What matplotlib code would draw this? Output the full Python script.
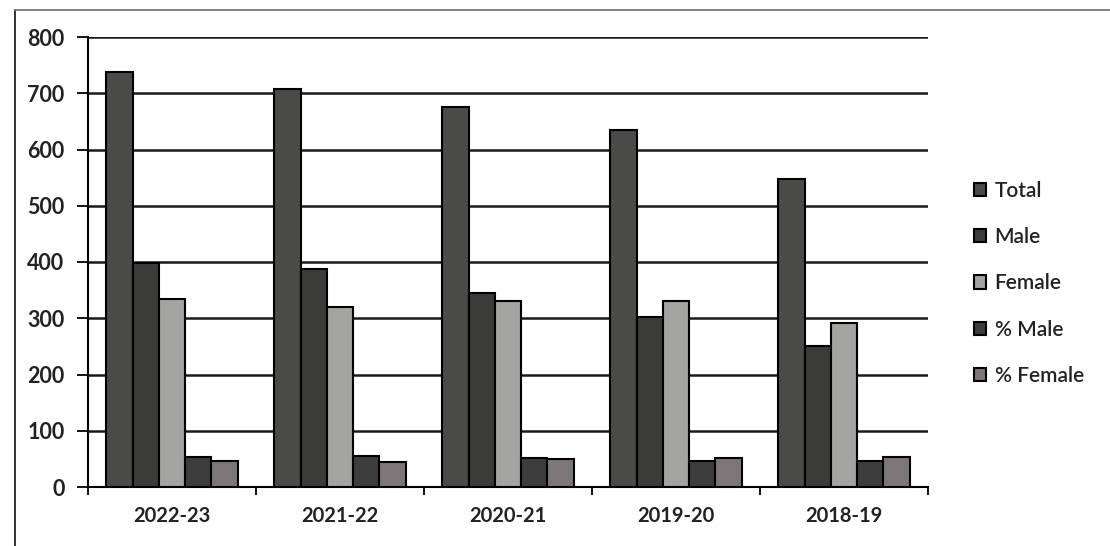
import matplotlib.pyplot as plt
import numpy as np

years = ["2022-23", "2021-22", "2020-21", "2019-20", "2018-19"]
total = [738, 707, 675, 635, 548]
male = [398, 387, 345, 302, 251]
female = [334, 320, 330, 330, 291]
pct_male = [54, 55, 51, 47, 46]
pct_female = [46, 45, 49, 52, 53]

series = ["Total", "Male", "Female", "% Male", "% Female"]
colors = ["#4a4a48", "#3b3b3a", "#a3a3a1", "#3e3d3d", "#7d7678"]

plt.rcParams["font.family"] = ["Lato", "DejaVu Sans"]

fig = plt.figure(figsize=(11.1, 5.46), dpi=100)
ax = fig.add_axes([88 / 1110, 1 - 487 / 546, (928 - 88) / 1110, (487 - 37) / 546])

# outer scanned frame
fig.add_artist(plt.Line2D([15 / 1110, 15 / 1110], [0, 1 - 10 / 546], transform=fig.transFigure,
                          color="#222222", lw=1.3))
fig.add_artist(plt.Line2D([15 / 1110, 1], [1 - 10 / 546, 1 - 10 / 546], transform=fig.transFigure,
                          color="#777777", lw=1.3))

x = np.arange(len(years))
w = 0.156
data = [total, male, female, pct_male, pct_female]
for i, (name, vals, c) in enumerate(zip(series, data, colors)):
    ax.bar(x + (i - 2) * w, vals, w, color=c, edgecolor="black", linewidth=1.5,
           label=name, zorder=3)

ax.set_xlim(-0.5, len(years) - 0.5)
ax.set_ylim(0, 800)
ax.set_yticks(range(0, 801, 100))
ax.yaxis.grid(True, color="#1a1a1a", lw=1.8, zorder=0)
ax.set_axisbelow(True)

ax.set_xticks(x)
ax.set_xticklabels(years, fontsize=14.5, fontweight="bold", color="#222222")
ax.set_xticks(np.arange(-0.5, len(years)), minor=True)
ax.tick_params(axis="x", which="major", length=0, pad=14)
ax.tick_params(axis="x", which="minor", length=6, width=1.3, direction="out")
ax.tick_params(axis="y", length=8, width=1.3, labelsize=15.5, pad=9, labelcolor="#222222")
for lab in ax.get_yticklabels():
    lab.set_fontweight("bold")

for s in ["top", "right"]:
    ax.spines[s].set_visible(False)
ax.spines["left"].set_linewidth(1.5)
ax.spines["bottom"].set_linewidth(1.5)

leg = fig.legend(loc="upper left", bbox_to_anchor=(955 / 1110, 1 - 162 / 546), frameon=False,
                 fontsize=15, handlelength=0.6, handleheight=0.6, handletextpad=0.4,
                 labelspacing=1.26)
for t in leg.get_texts():
    t.set_fontweight("semibold")
    t.set_color("#222222")

fig.savefig("out.png", dpi=100)
